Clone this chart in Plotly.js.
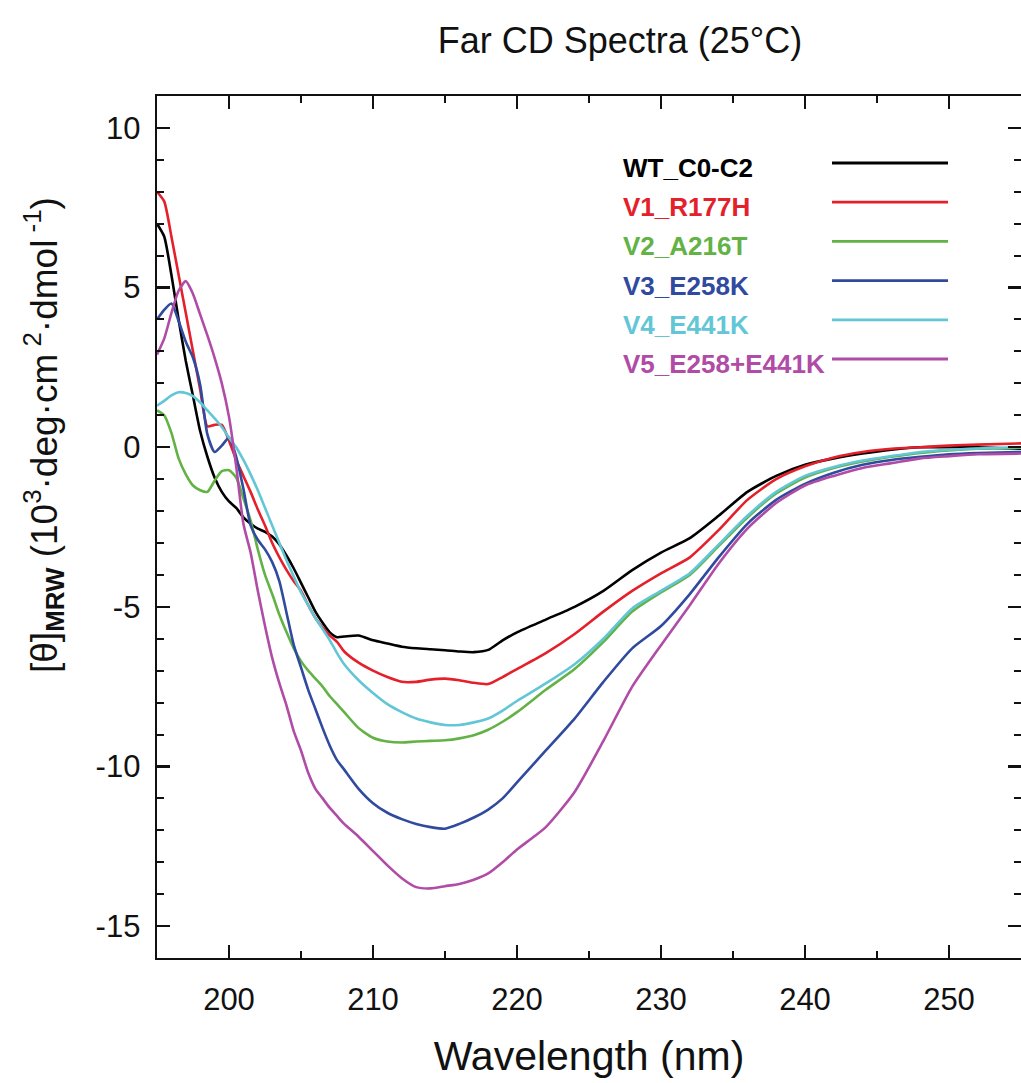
<!DOCTYPE html>
<html>
<head>
<meta charset="utf-8">
<script src="https://cdn.plot.ly/plotly-3.0.1.min.js"></script>
<style>
html,body{margin:0;padding:0;background:#fff;}
#chart{width:1021px;height:1083px;}
</style>
</head>
<body>
<div id="chart"></div>
<script>
// Wavelength grid (nm)
var wavelength = [195,195.5,196,196.5,197,197.5,198,198.5,199,199.5,200,200.5,201,201.5,202,202.5,203,203.5,204,204.5,205,205.5,206,206.5,207,207.5,208,209,210,211,212,213,214,215,216,217,218,219,220,222,224,226,228,230,232,234,236,238,240,242,244,246,248,250,252,255];

var wt_C0C2 = [7.0,6.6,5.4,4.0,2.7,1.6,0.5,-0.3,-0.95,-1.4,-1.7,-1.9,-2.2,-2.4,-2.55,-2.65,-2.8,-3.05,-3.4,-3.8,-4.25,-4.7,-5.15,-5.5,-5.8,-5.95,-5.93,-5.9,-6.05,-6.15,-6.25,-6.3,-6.33,-6.36,-6.4,-6.42,-6.35,-6.05,-5.8,-5.4,-5.0,-4.5,-3.85,-3.3,-2.85,-2.15,-1.4,-0.9,-0.55,-0.35,-0.2,-0.08,0.0,0.0,0.0,-0.05];

var v1_R177H = [8.0,7.7,6.6,5.4,4.2,3.0,1.8,0.65,0.7,0.7,0.2,-0.4,-0.9,-1.4,-1.95,-2.45,-3.0,-3.45,-3.85,-4.2,-4.5,-4.95,-5.35,-5.65,-5.9,-6.1,-6.4,-6.75,-7.0,-7.2,-7.35,-7.35,-7.28,-7.25,-7.3,-7.38,-7.42,-7.2,-6.95,-6.45,-5.85,-5.15,-4.5,-3.95,-3.45,-2.6,-1.65,-1.0,-0.6,-0.32,-0.15,-0.05,0.0,0.05,0.08,0.12];

var v2_A216T = [1.15,1.0,0.45,-0.35,-0.85,-1.2,-1.35,-1.4,-1.05,-0.75,-0.72,-0.95,-1.6,-2.3,-3.2,-4.0,-4.6,-5.25,-5.8,-6.3,-6.7,-7.0,-7.25,-7.5,-7.8,-8.05,-8.3,-8.8,-9.1,-9.22,-9.25,-9.22,-9.2,-9.18,-9.12,-9.02,-8.85,-8.6,-8.3,-7.6,-6.95,-6.1,-5.15,-4.55,-4.0,-3.1,-2.2,-1.45,-0.95,-0.65,-0.45,-0.3,-0.18,-0.1,-0.05,-0.02];

var v3_E258K = [4.0,4.3,4.5,3.95,3.3,2.8,1.95,0.4,-0.15,0.05,0.3,-0.3,-1.3,-2.45,-2.9,-3.2,-3.6,-4.2,-5.2,-6.2,-6.9,-7.6,-8.2,-8.8,-9.35,-9.8,-10.1,-10.7,-11.15,-11.45,-11.65,-11.8,-11.9,-11.95,-11.8,-11.6,-11.35,-11.0,-10.5,-9.5,-8.5,-7.35,-6.3,-5.6,-4.6,-3.45,-2.4,-1.65,-1.15,-0.8,-0.55,-0.4,-0.3,-0.22,-0.18,-0.15];

var v4_E441K = [1.3,1.45,1.62,1.72,1.7,1.6,1.4,1.15,0.9,0.63,0.3,0.0,-0.4,-0.85,-1.35,-1.9,-2.45,-3.0,-3.55,-4.05,-4.55,-4.95,-5.35,-5.7,-6.05,-6.45,-6.8,-7.3,-7.7,-8.05,-8.3,-8.5,-8.62,-8.7,-8.7,-8.62,-8.5,-8.25,-7.95,-7.4,-6.8,-6.0,-5.05,-4.5,-3.95,-3.05,-2.15,-1.4,-0.9,-0.62,-0.42,-0.28,-0.15,-0.08,-0.04,0.0];

var v5_E258_E441K = [2.9,3.4,4.2,4.9,5.2,4.8,4.15,3.5,2.8,2.0,0.95,-0.6,-2.4,-3.3,-4.5,-5.6,-6.6,-7.4,-8.1,-8.9,-9.5,-10.2,-10.7,-11.0,-11.3,-11.55,-11.8,-12.2,-12.65,-13.1,-13.5,-13.78,-13.82,-13.75,-13.68,-13.55,-13.35,-13.0,-12.6,-11.9,-10.8,-9.2,-7.5,-6.2,-4.95,-3.65,-2.55,-1.75,-1.2,-0.9,-0.65,-0.5,-0.35,-0.28,-0.22,-0.2];

var seriesNames = ['WT_C0-C2','V1_R177H','V2_A216T','V3_E258K','V4_E441K','V5_E258+E441K'];
var seriesValues = [wt_C0C2, v1_R177H, v2_A216T, v3_E258K, v4_E441K, v5_E258_E441K];
var seriesColors = ['#000000','#e4202a','#62b245','#2f4a9e','#62c6d6','#b04ca6'];

var xTickVals = [200,210,220,230,240,250];
var yTickVals = [10,5,0,-5,-10,-15];

var traces = seriesNames.map(function(n,i){
  return {
    type:'scatter', mode:'lines', name:n,
    x: wavelength, y: seriesValues[i],
    line:{color:seriesColors[i], width:2.6, shape:'spline', smoothing:0.6},
    showlegend:false, hoverinfo:'skip'
  };
});

// plot area geometry (px)
var W=1021, H=1083, L=157, R=0, T=96, B=125;
var pw=W-L-R, ph=H-T-B;
function px2x(p){return (p-L)/pw;}
function py2y(p){return 1-(p-T)/ph;}

var shapes=[], annotations=[];
seriesNames.forEach(function(n,i){
  var ly = 163 + 39.2*i;
  shapes.push({type:'line', xref:'paper', yref:'paper',
    x0:px2x(832), x1:px2x(948), y0:py2y(ly), y1:py2y(ly),
    line:{color:seriesColors[i], width:2.8}});
  annotations.push({xref:'paper', yref:'paper', x:px2x(621), y:py2y(ly+5),
    xanchor:'left', yanchor:'middle', showarrow:false,
    text:'<b>'+n+'</b>', font:{family:'Liberation Sans, Arial, sans-serif', size:26, color:seriesColors[i]}});
});

annotations.push({xref:'paper', yref:'paper', x:px2x(44), y:py2y(435),
  xanchor:'center', yanchor:'middle', showarrow:false, textangle:-90,
  text:'[θ]<sub><b>MRW</b></sub> (10<sup>3</sup>·deg·cm<sup> 2</sup>·dmol<sup> -1</sup>)',
  font:{family:'Liberation Sans, Arial, sans-serif', size:37, color:'#111'}});

var axisCommon = {
  showline:true, linecolor:'#111', linewidth:2.4, mirror:'ticks',
  ticks:'inside', ticklen:13, tickwidth:2.2, tickcolor:'#111',
  showgrid:false, zeroline:false
};

var layout = {
  width:W, height:H,
  margin:{l:L, r:R, t:T, b:B, pad:0},
  paper_bgcolor:'#fff', plot_bgcolor:'#fff',
  title:{text:'Far CD Spectra (25°C)', x:620/W, xanchor:'center', xref:'container', y:1-40/H, yanchor:'middle', yref:'container',
    font:{family:'Liberation Sans, Arial, sans-serif', size:36, color:'#111'}},
  xaxis: Object.assign({}, axisCommon, {
    range:[195,255], tickvals:xTickVals, ticktext:xTickVals.map(String),
    minor:{dtick:5, tick0:0, ticks:'inside', ticklen:7, tickwidth:2, tickcolor:'#111'},
    tickfont:{family:'Liberation Sans, Arial, sans-serif', size:31, color:'#111'},
    ticklabelstandoff:12,
    title:{text:'Wavelength (nm)', standoff:26, font:{family:'Liberation Sans, Arial, sans-serif', size:41, color:'#111'}}
  }),
  yaxis: Object.assign({}, axisCommon, {
    range:[-16,11], tickvals:yTickVals, ticktext:yTickVals.map(String),
    minor:{dtick:1, tick0:0, ticks:'inside', ticklen:7, tickwidth:2, tickcolor:'#111'},
    tickfont:{family:'Liberation Sans, Arial, sans-serif', size:31, color:'#111'},
    ticklabelstandoff:8
  }),
  shapes:shapes,
  annotations:annotations
};

Plotly.newPlot('chart', traces, layout, {staticPlot:true, displayModeBar:false});
</script>
</body>
</html>
